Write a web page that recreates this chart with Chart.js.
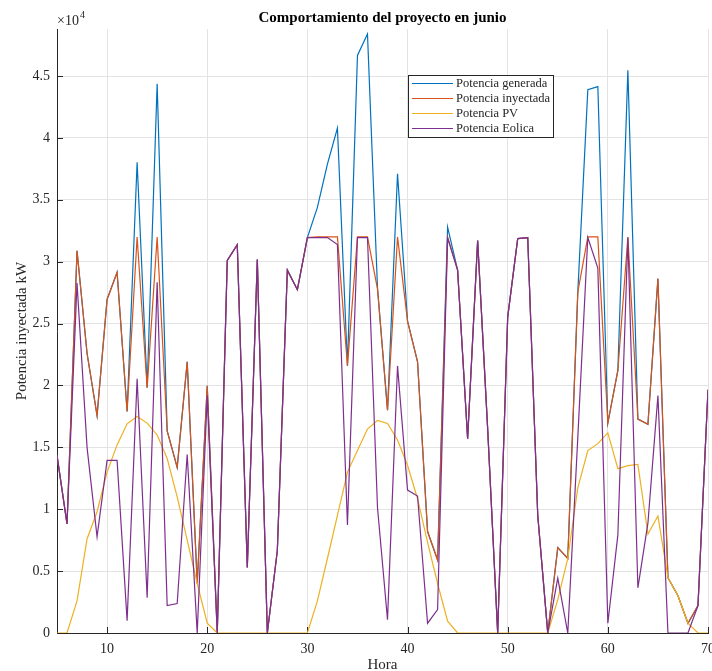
<!DOCTYPE html>
<html lang="es">
<head>
<meta charset="utf-8">
<title>Comportamiento del proyecto en junio</title>
<script src="https://cdn.jsdelivr.net/npm/chart.js@4.4.1/dist/chart.umd.min.js"></script>
<style>
    html, body { margin: 0; padding: 0; background: #fff; overflow: hidden; }
    #wrap { width: 712px; height: 671px; }
</style>
</head>
<body>
<div id="wrap"><canvas id="proyectoChart" width="712" height="671"></canvas></div>
<script>
// Hourly values for June (kW)
const horas = [5, 6, 7, 8, 9, 10, 11, 12, 13, 14, 15, 16, 17, 18, 19, 20, 21, 22, 23, 24, 25, 26, 27, 28, 29, 30,
    31, 32, 33, 34, 35, 36, 37, 38, 39, 40, 41, 42, 43, 44, 45, 46, 47, 48, 49, 50,
    51, 52, 53, 54, 55, 56, 57, 58, 59, 60, 61, 62, 63, 64, 65, 66, 67, 68, 69, 70];

const potGenerada = [14360, 8810, 30880, 22600, 17570, 26950, 29150, 17900, 38040, 19810, 44380, 16320, 13380, 21920, 4000, 19980, 0, 30100, 31380, 5300, 30180, 0, 6660, 29320, 27740, 31950,
    34390, 37880, 40800, 21600, 46660, 48400, 27900, 18000, 37100, 25200, 21900, 8200, 5900, 32800, 29320, 15690, 31700, 16500, 0, 25520,
    31860, 31950, 9510, 0, 6900, 6020, 27530, 43900, 44150, 16960, 21210, 45470, 17280, 16860, 28630, 4470, 3010, 790, 2220, 19650];

const potInyectada = [14360, 8810, 30880, 22600, 17570, 26950, 29150, 17900, 32000, 19810, 32000, 16320, 13380, 21920, 4000, 19980, 0, 30100, 31380, 5300, 30180, 0, 6660, 29320, 27740, 31950,
    32000, 32000, 32000, 21600, 32000, 32000, 27800, 18000, 32000, 25200, 21900, 8200, 5900, 32000, 29320, 15690, 31700, 16500, 0, 25520,
    31860, 31950, 9510, 0, 6900, 6020, 27530, 32000, 32000, 16960, 21210, 32000, 17280, 16860, 28630, 4470, 3010, 790, 2220, 19650];

const potPV = [0, 0, 2600, 7600, 9800, 13000, 15200, 16900, 17500, 16960, 16000, 14100, 11000, 7500, 4000, 800, 0, 0, 0, 0, 0, 0, 0, 0, 0, 0,
    2600, 6020, 9510, 13000, 14740, 16480, 17180, 16930, 15600, 13550, 10850, 7330, 4000, 950, 0, 0, 0, 0, 0, 0,
    0, 0, 0, 0, 2700, 6020, 11730, 14740, 15300, 16170, 13280, 13520, 13630, 7990, 9450, 4470, 3010, 790, 0, 0];

const potEolica = [14360, 8810, 28280, 15000, 7770, 13950, 13950, 1000, 20540, 2850, 28340, 2220, 2380, 14420, 0, 19180, 0, 30100, 31380, 5300, 30180, 0, 6660, 29320, 27740, 31950,
    31950, 31950, 31380, 8720, 31950, 31950, 10140, 1080, 21580, 11550, 11070, 790, 1900, 31900, 29320, 15690, 31700, 16500, 0, 25520,
    31860, 31950, 9510, 0, 4440, 0, 15800, 31950, 29480, 790, 7930, 31950, 3650, 8870, 19180, 0, 0, 0, 2220, 19650];

// Axis ticks
const ticksHora = [10, 20, 30, 40, 50, 60, 70];
const ticksPotencia = [0, 5000, 10000, 15000, 20000, 25000, 30000, 35000, 40000, 45000];

const serif = "'Liberation Serif', 'Times New Roman', serif";
const axisColor = '#262626';
const gridColor = '#e3e3e3';

// Title, exponent note, legend box and inward tick marks
const decoraciones = {
    id: 'decoraciones',
    beforeDatasetsDraw(chart) {
        const { ctx, chartArea, scales } = chart;
        ctx.save();
        ctx.strokeStyle = axisColor;
        ctx.lineWidth = 1;
        ctx.beginPath();
        scales.x.ticks.forEach(t => {
            const x = Math.round(scales.x.getPixelForValue(t.value)) + 0.5;
            ctx.moveTo(x, chartArea.bottom);
            ctx.lineTo(x, chartArea.bottom - 6);
        });
        scales.y.ticks.forEach(t => {
            const y = Math.round(scales.y.getPixelForValue(t.value)) + 0.5;
            ctx.moveTo(chartArea.left, y);
            ctx.lineTo(chartArea.left + 6, y);
        });
        ctx.stroke();
        ctx.restore();
    },
    afterDraw(chart) {
        const { ctx, chartArea } = chart;
        ctx.save();

        ctx.fillStyle = '#000';
        ctx.font = `bold 15px ${serif}`;
        ctx.textAlign = 'center';
        ctx.textBaseline = 'middle';
        ctx.fillText('Comportamiento del proyecto en junio', (chartArea.left + chartArea.right) / 2, 18.5);

        ctx.fillStyle = axisColor;
        ctx.textAlign = 'left';
        ctx.textBaseline = 'alphabetic';
        ctx.font = `14px ${serif}`;
        ctx.fillText('\u00d710', chartArea.left, 25);
        const w = ctx.measureText('\u00d710').width;
        ctx.font = `10px ${serif}`;
        ctx.fillText('4', chartArea.left + w + 1, 18);

        // legend
        const lx = 408.5, ly = 75.5, lw = 145, lh = 62;
        ctx.fillStyle = '#fff';
        ctx.fillRect(lx, ly, lw, lh);
        ctx.strokeStyle = axisColor;
        ctx.lineWidth = 1;
        ctx.strokeRect(lx, ly, lw, lh);
        ctx.font = `12.5px ${serif}`;
        ctx.textBaseline = 'middle';
        chart.data.datasets.forEach((ds, i) => {
            const y = 83.5 + i * 15;
            ctx.strokeStyle = ds.borderColor;
            ctx.lineWidth = 1.2;
            ctx.beginPath();
            ctx.moveTo(412, y);
            ctx.lineTo(453, y);
            ctx.stroke();
            ctx.fillStyle = axisColor;
            ctx.fillText(ds.label, 456, y);
        });
        ctx.restore();
    }
};

const ctx = document.getElementById('proyectoChart').getContext('2d');

const lineStyle = { borderWidth: 1.2, pointRadius: 0, pointHoverRadius: 0, tension: 0, fill: false };

new Chart(ctx, {
    type: 'line',
    data: {
        labels: horas,
        datasets: [
            { label: 'Potencia generada', data: potGenerada, borderColor: '#0072BD', order: 3, ...lineStyle },
            { label: 'Potencia inyectada', data: potInyectada, borderColor: '#D95319', order: 2, ...lineStyle },
            { label: 'Potencia PV', data: potPV, borderColor: '#EDB120', order: 1, ...lineStyle },
            { label: 'Potencia Eolica', data: potEolica, borderColor: '#7E2F8E', order: 0, ...lineStyle }
        ]
    },
    options: {
        responsive: false,
        animation: false,
        layout: {
            padding: { top: 29, right: 4, bottom: 0, left: 0 }
        },
        plugins: {
            legend: { display: false },
            tooltip: { enabled: false },
            title: { display: false }
        },
        scales: {
            x: {
                type: 'linear',
                min: 5,
                max: 70,
                afterBuildTicks(scale) {
                    scale.ticks = ticksHora.map(value => ({ value }));
                },
                ticks: {
                    maxRotation: 0,
                    padding: 8,
                    color: axisColor,
                    font: { family: serif, size: 14 }
                },
                grid: { color: gridColor, drawTicks: false },
                border: { color: axisColor, width: 1 },
                title: {
                    display: true,
                    text: 'Hora',
                    color: axisColor,
                    font: { family: serif, size: 15 },
                    padding: { top: 0, bottom: -3 }
                },
                afterFit(scale) {
                    scale.height = 38;
                    scale.paddingLeft = 0;
                    scale.paddingRight = 0;
                }
            },
            y: {
                min: 0,
                max: 48800,
                afterBuildTicks(scale) {
                    scale.ticks = ticksPotencia.map(value => ({ value }));
                },
                ticks: {
                    padding: 7,
                    color: axisColor,
                    font: { family: serif, size: 14 },
                    callback: value => (value / 10000).toString()
                },
                grid: { color: gridColor, drawTicks: false },
                border: { color: axisColor, width: 1 },
                title: {
                    display: true,
                    text: 'Potencia inyectada kW',
                    color: axisColor,
                    font: { family: serif, size: 15 },
                    padding: { top: 13, bottom: 0 }
                },
                afterFit(scale) {
                    scale.width = 57;
                }
            }
        }
    },
    plugins: [decoraciones]
});
</script>
</body>
</html>
